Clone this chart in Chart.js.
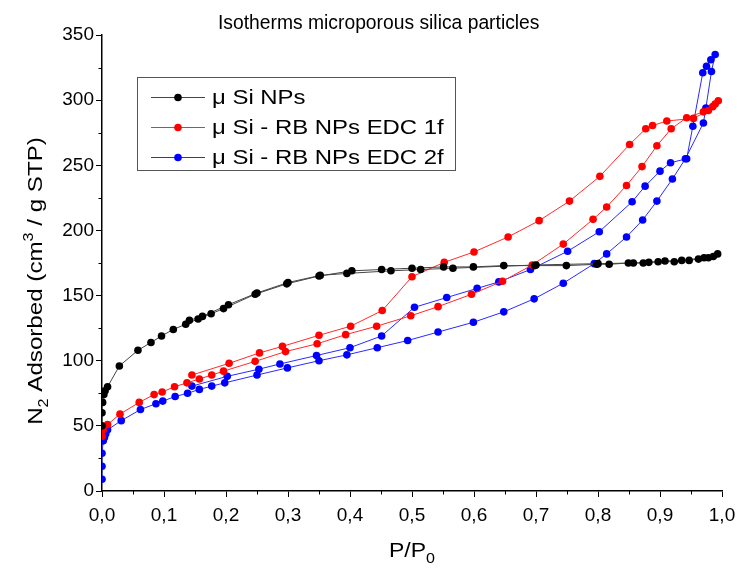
<html lang="en">
<head>
    <meta charset="UTF-8">
    <title>Isotherms microporous silica particles</title>
    <script src="https://cdn.jsdelivr.net/npm/chart.js@4.4.1/dist/chart.umd.min.js"></script>
    <style>
        body { margin: 0; background: #fff; }
        #wrap { width: 737px; height: 568px; }
    </style>
</head>
<body>
    <div id="wrap"><canvas id="chart" width="737" height="568"></canvas></div>
    <script>
        // each series is one loop: adsorption going up, then desorption coming back down
        const siX = [0.000, 0.000, 0.001, 0.003, 0.005, 0.009, 0.028, 0.058, 0.079, 0.096, 0.115, 0.135, 0.155, 0.176, 0.196, 0.247, 0.298, 0.350, 0.403, 0.451, 0.500, 0.551, 0.599, 0.648, 0.698, 0.749, 0.798, 0.818, 0.849, 0.873, 0.897, 0.923, 0.947, 0.962, 0.978, 0.993,
            0.986, 0.971, 0.935, 0.908, 0.882, 0.857, 0.800, 0.700, 0.566, 0.514, 0.466, 0.395, 0.352, 0.300, 0.250, 0.204, 0.162, 0.141];
        const siY = [50, 60, 68, 74, 77, 80, 96, 108, 114, 119, 124, 128, 132, 136, 140, 151, 159, 165, 169, 170, 171, 172, 172, 173, 173, 173, 174, 174, 175, 175, 176, 176, 177, 178, 179, 182,
            180, 179, 177, 176.5, 175.5, 175, 174.5, 173.5, 171, 170, 169, 167, 165.5, 160, 152, 143, 134, 131];

        const rb1X = [0.000, 0.002, 0.009, 0.029, 0.060, 0.084, 0.097, 0.117, 0.137, 0.157, 0.177, 0.196, 0.247, 0.296, 0.347, 0.393, 0.443, 0.498, 0.542, 0.596, 0.646, 0.694, 0.744, 0.792, 0.814, 0.846, 0.871, 0.895, 0.918, 0.943, 0.970, 0.985, 0.994,
            0.989, 0.978, 0.954, 0.911, 0.888, 0.877, 0.851, 0.803, 0.754, 0.705, 0.655, 0.600, 0.552, 0.500, 0.452, 0.401, 0.350, 0.291, 0.254, 0.205, 0.145];
        const rb1Y = [42, 47, 51, 59, 68, 74, 76, 80, 83, 86, 89, 92, 99.5, 107, 113, 120, 126.5, 134.5, 141.5, 151, 161, 173.5, 189.5, 208.5, 218, 234.5, 249, 265, 278, 286.5, 291, 295, 299.5,
            297, 292, 286, 284, 280.5, 278, 266, 241.5, 222.5, 207.5, 195, 183.5, 175.5, 164.5, 138.5, 126.5, 119.5, 111, 106, 98, 89];

        const rb2X = [0.000, 0.000, 0.000, 0.002, 0.004, 0.006, 0.009, 0.031, 0.062, 0.087, 0.098, 0.118, 0.138, 0.157, 0.177, 0.198, 0.250, 0.299, 0.350, 0.395, 0.444, 0.493, 0.542, 0.599, 0.648, 0.697, 0.744, 0.794, 0.814, 0.846, 0.872, 0.895, 0.920, 0.941, 0.970, 0.974, 0.983, 0.989,
            0.982, 0.975, 0.969, 0.953, 0.943, 0.917, 0.900, 0.876, 0.855, 0.802, 0.751, 0.691, 0.640, 0.605, 0.556, 0.504, 0.451, 0.400, 0.346, 0.287, 0.253, 0.202, 0.145];
        const rb2Y = [9, 19, 29, 38.5, 41, 44, 47, 54, 62.5, 67, 69, 72.5, 75, 78, 80.5, 83, 89, 94.5, 100, 104.5, 110, 115.5, 122, 129.5, 137.5, 147.5, 159.5, 174.5, 182, 195, 208, 222.5, 239.5, 255, 282.5, 294, 322, 335,
            331, 326, 321, 280, 255, 252, 245.5, 234, 222, 199, 184, 170, 160.5, 155.5, 148.5, 141, 119, 110, 104, 97.5, 93.5, 88, 80.5];

        const seriesNames = ['\u03bc Si NPs', '\u03bc Si - RB NPs EDC 1f', '\u03bc Si - RB NPs EDC 2f'];
        const xTicks = [0, 0.1, 0.2, 0.3, 0.4, 0.5, 0.6, 0.7, 0.8, 0.9, 1.0];
        const yTicks = [0, 50, 100, 150, 200, 250, 300, 350];

        const FONT = '"Liberation Sans", Arial, sans-serif';
        const STRETCH = 1.15; // the original lettering is a bit wider than Arial

        function pairs(xs, ys) {
            return xs.map((x, i) => ({ x: x, y: ys[i] }));
        }

        function makeSet(label, xs, ys, line, dot) {
            return {
                label: label,
                data: pairs(xs, ys),
                borderColor: line,
                borderWidth: 1,
                backgroundColor: dot,
                pointBackgroundColor: dot,
                pointBorderColor: dot,
                pointRadius: 3.8,
                pointBorderWidth: 0,
                tension: 0,
                fill: false
            };
        }

        // runs are [text, size, baselineShift], drawn stretched sideways
        function runsWidth(ctx, runs) {
            let w = 0;
            runs.forEach(r => { ctx.font = r[1] + 'px ' + FONT; w += ctx.measureText(r[0]).width; });
            return w * STRETCH;
        }
        function drawRuns(ctx, runs, x, y) {
            ctx.save();
            ctx.translate(x, y);
            ctx.scale(STRETCH, 1);
            let cx = 0;
            runs.forEach(r => {
                ctx.font = r[1] + 'px ' + FONT;
                ctx.fillText(r[0], cx, r[2]);
                cx += ctx.measureText(r[0]).width;
            });
            ctx.restore();
        }

        // axis titles, chart title, legend box and minor ticks
        const extras = {
            id: 'extras',
            afterDraw(chart) {
                const ctx = chart.ctx;
                const xs = chart.scales.x, ys = chart.scales.y;
                const area = chart.chartArea;
                ctx.save();
                ctx.strokeStyle = '#000';
                ctx.lineWidth = 1;
                ctx.beginPath();
                for (let v = 0.05; v < 1; v += 0.1) {
                    const px = Math.round(xs.getPixelForValue(v)) + 0.5;
                    ctx.moveTo(px, area.bottom);
                    ctx.lineTo(px, area.bottom + 3.5);
                }
                for (let v = 25; v < 350; v += 50) {
                    const py = Math.round(ys.getPixelForValue(v)) + 0.5;
                    ctx.moveTo(area.left, py);
                    ctx.lineTo(area.left - 3.5, py);
                }
                ctx.stroke();

                ctx.fillStyle = '#000';
                ctx.textBaseline = 'alphabetic';
                ctx.textAlign = 'left';
                ctx.font = '19.3px ' + FONT;
                ctx.fillText('Isotherms microporous silica particles', 218, 29);

                // x title P/P0
                const xRuns = [['P/P', 20, 0], ['0', 14, 6]];
                drawRuns(ctx, xRuns, (area.left + area.right) / 2 - runsWidth(ctx, xRuns) / 2, 557);

                // y title with subscript and superscript
                const yRuns = [['N', 21, 0], ['2', 14, 6], [' Adsorbed (cm', 21, 0], ['3', 14, -9], [' / g STP)', 21, 0]];
                ctx.save();
                ctx.translate(42, 281);
                ctx.rotate(-Math.PI / 2);
                drawRuns(ctx, yRuns, -runsWidth(ctx, yRuns) / 2, 0);
                ctx.restore();
                ctx.restore();

                // legend
                ctx.save();
                ctx.fillStyle = '#fff';
                ctx.fillRect(137, 77, 318, 93);
                ctx.strokeStyle = '#555';
                ctx.lineWidth = 1;
                ctx.strokeRect(137.5, 77.5, 318, 93);
                ctx.textBaseline = 'middle';
                chart.data.datasets.forEach((ds, i) => {
                    const y = 97 + i * 30;
                    ctx.strokeStyle = ds.borderColor;
                    ctx.beginPath();
                    ctx.moveTo(151, y + 0.5);
                    ctx.lineTo(205, y + 0.5);
                    ctx.stroke();
                    ctx.fillStyle = ds.pointBackgroundColor;
                    ctx.beginPath();
                    ctx.arc(178, y + 0.5, 3.8, 0, Math.PI * 2);
                    ctx.fill();
                    ctx.fillStyle = '#000';
                    drawRuns(ctx, [[ds.label, 20.8, 0]], 212, y + 1);
                });
                ctx.restore();
            }
        };

        new Chart(document.getElementById('chart').getContext('2d'), {
            type: 'line',
            data: {
                datasets: [
                    makeSet(seriesNames[0], siX, siY, '#444444', '#000000'),
                    makeSet(seriesNames[1], rb1X, rb1Y, '#ff2a2a', '#ff0000'),
                    makeSet(seriesNames[2], rb2X, rb2Y, '#2a2aff', '#0000ff')
                ]
            },
            options: {
                responsive: false,
                animation: false,
                events: [],
                layout: { autoPadding: false, padding: { top: 35, right: 15, left: 0, bottom: 0 } },
                plugins: { legend: { display: false }, title: { display: false }, tooltip: { enabled: false } },
                scales: {
                    x: {
                        type: 'linear',
                        min: 0, max: 1,
                        afterFit(scale) { scale.height = 77; scale.paddingLeft = 0; scale.paddingRight = 0; },
                        afterBuildTicks(scale) { scale.ticks = xTicks.map(v => ({ value: v })); },
                        border: { display: true, color: '#000', width: 1.5 },
                        grid: { drawOnChartArea: false, drawTicks: true, tickLength: 6, tickColor: '#000', tickWidth: 1 },
                        ticks: {
                            color: '#000', padding: 7,
                            font: { family: FONT, size: 19 },
                            callback: v => v.toFixed(1).replace('.', ',')
                        }
                    },
                    y: {
                        type: 'linear',
                        min: 0, max: 350,
                        afterFit(scale) { scale.width = 102; scale.paddingTop = 0; scale.paddingBottom = 0; },
                        afterBuildTicks(scale) { scale.ticks = yTicks.map(v => ({ value: v })); },
                        border: { display: true, color: '#000', width: 1.5 },
                        grid: { drawOnChartArea: false, drawTicks: true, tickLength: 6, tickColor: '#000', tickWidth: 1 },
                        ticks: {
                            color: '#000', padding: 2,
                            font: { family: FONT, size: 19 }
                        }
                    }
                }
            },
            plugins: [extras]
        });
    </script>
</body>
</html>
